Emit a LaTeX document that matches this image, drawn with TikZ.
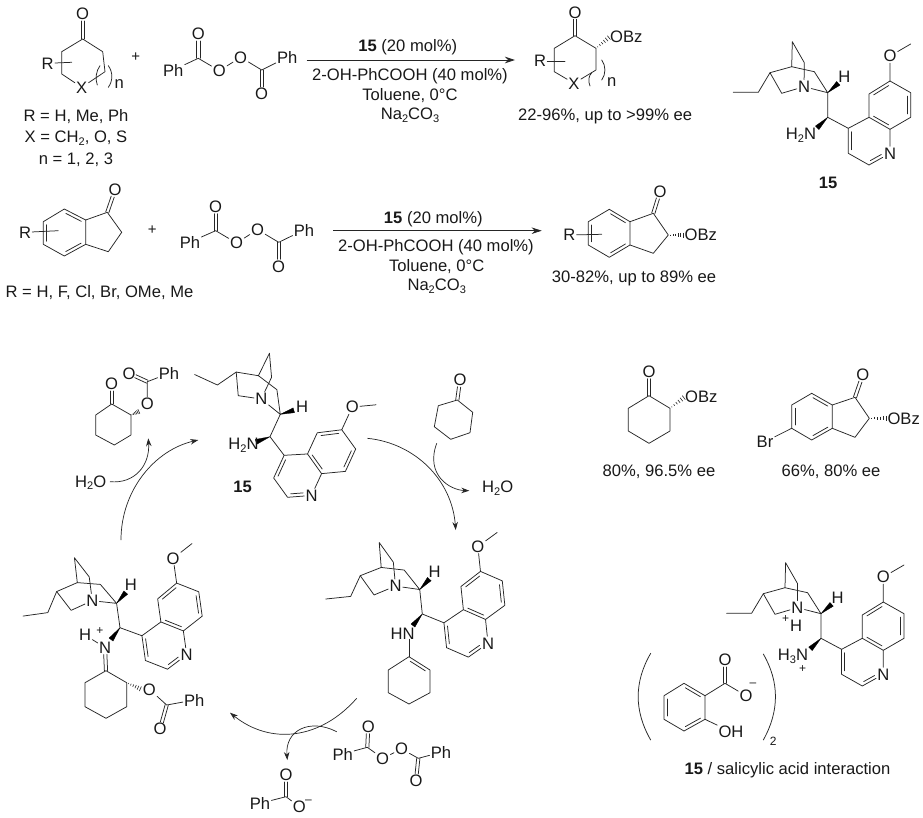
\documentclass[tikz,border=0pt]{standalone}
\usepackage{fontspec}
\setmainfont{Liberation Sans}
\usetikzlibrary{calc,arrows.meta}
\newcommand{\lf}{\fontsize{16.6}{18}\selectfont}
\newcommand{\subs}[1]{\raisebox{-2.6pt}{\fontsize{11}{11}\selectfont #1}}
\tikzset{
  bond/.style={line width=.75pt,draw=black!85,line cap=round,line join=round},
  atom/.style={inner sep=1.1pt,font=\lf,text=black!90},
  lab/.style={inner sep=0pt,font=\lf,text=black!90,align=center},
  tiny/.style={inner sep=0pt,font=\fontsize{12}{12}\selectfont,text=black!90},
  plussign/.style={inner sep=0pt,font=\fontsize{15}{15}\selectfont,text=black!90},
  rxn/.style={line width=.85pt,draw=black!85,-{Stealth[length=10pt,width=6.5pt]}},
  curv/.style={line width=.7pt,draw=black!85,-{Stealth[length=8pt,width=5.5pt]}},
  wedgef/.style={fill=black,draw=black,line width=.3pt,line join=round},
}
% inner ring line, on the left of the direction a -> b as seen on the page
\newcommand{\dblin}[2]{\draw[bond] ($(#1)!.14!(#2)!3.2pt!90:(#2)$) -- ($(#1)!.86!(#2)!3.2pt!90:(#2)$);}
\newcommand{\dblinN}[2]{\draw[bond] ($(#1)!.14!(#2)!3.2pt!90:(#2)$) -- ($(#1)!.66!(#2)!3.2pt!90:(#2)$);}
% carbonyl: two lines, from a coordinate to the centre of a label
\newcommand{\dbo}[2]{\draw[bond,shorten >=7pt] ($(#1)!1.6pt!90:(#2)$) -- ($(#2)!1.6pt!-90:(#1)$);
  \draw[bond,shorten >=7pt] ($(#1)!1.6pt!-90:(#2)$) -- ($(#2)!1.6pt!90:(#1)$);}
\newcommand{\wedgeb}[2]{\fill[wedgef] (#1) -- ($(#2)!2.5pt!90:(#1)$) -- ($(#2)!2.5pt!-90:(#1)$) -- cycle;}
\newcommand{\hashb}[2]{\foreach \t/\w in {.12/.5,.28/.9,.44/1.3,.6/1.7,.76/2.1,.92/2.5}{
  \draw[line width=.6pt,draw=black!85] ($(#1)!\t!(#2)!\w pt!90:(#2)$) -- ($(#1)!\t!(#2)!\w pt!-90:(#2)$);}}
% catalyst skeleton: prefix, x and y of C9, rotation
\newcommand{\catcore}[4]{%
\begin{scope}[shift={(#2,#3)},rotate=#4]
  \coordinate (#1E1) at (-94.4,-25);
  \coordinate (#1E2) at (-69.4,-25);
  \coordinate (#1C3) at (-57.7,-44.6);
  \coordinate (#1BH) at (-36,-50.6);
  \coordinate (#1Top) at (-35.4,-75.6);
  \coordinate (#1Br) at (-23.4,-54.6);
  \coordinate (#1L) at (-46,-24);
  \coordinate (#1Cm) at (-13.4,-45.6);
  \coordinate (#1C8) at (0,-24.6);
  \coordinate (#1Hw) at (10.6,-34);
  \coordinate (#1C9) at (0,0);
  \coordinate (#1Nw) at (-10.5,10.5);
  \coordinate (#1Ca) at (20.6,11);
  \coordinate (#1Cb) at (41.3,0);
  \coordinate (#1Cc) at (41.3,-23.3);
  \coordinate (#1Cd) at (62.3,-36.3);
  \coordinate (#1Me) at (83,-73.3);
  \coordinate (#1Ce) at (83,-24.6);
  \coordinate (#1Cf) at (83,0);
  \coordinate (#1Cg) at (62.3,12);
  \coordinate (#1Ch) at (41.3,47.7);
  \coordinate (#1Ci) at (20.6,36);
  \node[atom] (#1N) at (-23.7,-30.6) {N};
  \node[atom] (#1H) at (16.6,-40.6) {H};
  \node[atom] (#1O) at (62.3,-61.3) {O};
  \node[atom] (#1Q) at (62.3,36) {N};
  \draw[bond] (#1E1)--(#1E2)--(#1C3)--(#1BH)--(#1Top)--(#1Br)--(#1N);
  \draw[bond] (#1C3)--(#1L)--(#1N);
  \draw[bond] (#1BH)--(#1Cm)--(#1C8)--(#1N);
  \draw[bond] (#1C8)--(#1C9)--(#1Ca)--(#1Cb)--(#1Cc)--(#1Cd)--(#1Ce)--(#1Cf)--(#1Cg)--(#1Cb);
  \draw[bond] (#1Cd)--(#1O)--(#1Me);
  \draw[bond] (#1Cg)--(#1Q)--(#1Ch)--(#1Ci)--(#1Ca);
  \wedgeb{#1C8}{#1Hw}
  \wedgeb{#1C9}{#1Nw}
  \dblin{#1Cd}{#1Cc}
  \dblin{#1Cb}{#1Cg}
  \dblin{#1Cf}{#1Ce}
  \dblin{#1Ca}{#1Ci}
  \dblinN{#1Ch}{#1Q}
\end{scope}}
% peroxide: prefix, then Ph, C, O, O, O, C, O, Ph
\newcommand{\bpo}[9]{%
  \node[atom] (#1a) at (#2) {Ph};
  \coordinate (#1b) at (#3);
  \node[atom] (#1c) at (#4) {O};
  \node[atom] (#1d) at (#5) {O};
  \node[atom] (#1e) at (#6) {O};
  \coordinate (#1f) at (#7);
  \node[atom] (#1g) at (#8) {O};
  \node[atom] (#1h) at (#9) {Ph};
  \draw[bond] (#1a)--(#1b)--(#1d)--(#1e)--(#1f)--(#1h);
  \dbo{#1b}{#1c}
  \dbo{#1f}{#1g}}
\begin{document}
\begin{tikzpicture}[x=1pt,y=-1pt]
\useasboundingbox (0,0) rectangle (923,817);
\fill[white] (0,0) rectangle (923,817);

%% ---- row 1: ketone
\node[atom] (kO) at (82.7,14) {O};
\coordinate (kC) at (82.7,39);
\coordinate (kL) at (61.7,51.7);
\coordinate (kR) at (102.7,51.7);
\coordinate (kLL) at (61.7,74);
\coordinate (kRR) at (105,71.7);
\node[atom] (kX) at (81.7,87.3) {X};
\node[atom] (kRg) at (47.7,63.3) {R};
\coordinate (kRe) at (71.7,62.3);
\node[atom] (kn) at (119.3,84) {n};
\draw[bond] (kC)--(kL)--(kLL)--(kX)--(kRR)--(kR)--(kC);
\dbo{kC}{kO}
\draw[bond] (kRg)--(kRe);
\draw[bond] (100,65.7) .. controls (96,71) and (95,79) .. (97.3,85);
\draw[bond] (108.3,65.7) .. controls (113,72) and (113,81) .. (108.3,87.3);
\node[plussign] (pl1) at (135.7,57.3) {+};
\bpo{pa}{173.3,70}{198.3,58.3}{198.3,34}{219.3,70.7}{240.7,57.3}{261.7,70}{261.7,94}{287.3,57.3}
\node[lab] (t1) at (76,116.7) {R = H, Me, Ph};
\node[lab] (t2) at (76,138.5) {X = CH\subs{2}, O, S};
\node[lab] (t3) at (76,160) {n = 1, 2, 3};

%% ---- arrow 1
\coordinate (a1s) at (306.7,60);
\coordinate (a1e) at (515,60);
\draw[rxn] (a1s)--(a1e);
\node[lab] (c11) at (407.7,47.7) {\textbf{15} (20 mol\%)};
\node[lab] (c12) at (410,76.7) {2-OH-PhCOOH (40 mol\%)};
\node[lab] (c13) at (410,95.7) {Toluene, 0°C};
\node[lab] (c14) at (410,115) {Na\subs{2}CO\subs{3}};

%% ---- product 1
\node[atom] (pO) at (575,12.3) {O};
\coordinate (pC) at (575,35.7);
\coordinate (pL) at (554.3,48.3);
\coordinate (pR) at (596,48.3);
\coordinate (pLL) at (554.3,71.7);
\coordinate (pRR) at (596,70);
\node[atom] (pX) at (574,83.3) {X};
\node[atom] (pRg) at (540,61) {R};
\coordinate (pRe) at (565,61);
\node[atom] (pn) at (611.7,81.7) {n};
\node[lab,anchor=west] (pOBz) at (610,36.7) {OBz};
\draw[bond] (pC)--(pL)--(pLL)--(pX)--(pRR)--(pR)--(pC);
\dbo{pC}{pO}
\draw[bond] (pRg)--(pRe);
\hashb{pR}{pOBz.west}
\draw[bond] (591.7,72.7) .. controls (588.5,76) and (588,81) .. (590,86);
\draw[bond] (601.7,60) .. controls (606,66) and (606,74) .. (601.7,80);
\node[lab,anchor=west] (py1) at (518,116.7) {22-96\%, up to >99\% ee};

%% ---- catalyst, top right
\catcore{A}{827.7}{117.3}{0}
\node[lab] (AH2N) at (801,135) {H\subs{2}N};
\node[lab,font=\lf\bfseries] (A15) at (828,183) {15};

%% ---- row 2: indanone
\node[atom] (iRg) at (25,232.3) {R};
\coordinate (i1) at (64.3,209);
\coordinate (i2) at (43.3,221.7);
\coordinate (i3) at (43.3,244.3);
\coordinate (i4) at (64.3,256);
\coordinate (i5) at (85.7,244.3);
\coordinate (i6) at (85.7,220);
\coordinate (i7) at (107.3,212.3);
\coordinate (i8) at (121.7,232.3);
\coordinate (i9) at (108.3,251.7);
\coordinate (iRe) at (58.3,230.7);
\node[atom] (iO) at (115,190) {O};
\draw[bond] (i1)--(i2)--(i3)--(i4)--(i5)--(i6)--(i1);
\draw[bond] (i6)--(i7)--(i8)--(i9)--(i5);
\dblin{i2}{i3}\dblin{i4}{i5}\dblin{i6}{i1}
\dbo{i7}{iO}
\draw[bond] (iRg)--(iRe);
\node[plussign] (pl2) at (152.3,230) {+};
\bpo{pb}{190,242}{215.7,230.7}{215.7,206.7}{236.5,243}{257.5,229.6}{278.7,242.3}{278.7,266.3}{304,230}
\node[lab] (t4) at (99.5,292.7) {R = H, F, Cl, Br, OMe, Me};

%% ---- arrow 2
\coordinate (a2s) at (333.3,230.7);
\coordinate (a2e) at (541.7,230.7);
\draw[rxn] (a2s)--(a2e);
\node[lab] (c21) at (433.3,219) {\textbf{15} (20 mol\%)};
\node[lab] (c22) at (436,247.5) {2-OH-PhCOOH (40 mol\%)};
\node[lab] (c23) at (436.7,267) {Toluene, 0°C};
\node[lab] (c24) at (436.7,286) {Na\subs{2}CO\subs{3}};

%% ---- product 2
\node[atom] (qRg) at (569.3,235) {R};
\coordinate (q1) at (609.3,209.3);
\coordinate (q2) at (588.3,221.7);
\coordinate (q3) at (588.3,245);
\coordinate (q4) at (609.3,257.3);
\coordinate (q5) at (630,245);
\coordinate (q6) at (630,221.7);
\coordinate (q7) at (653.3,213.3);
\coordinate (q8) at (668.3,235);
\coordinate (q9) at (653.3,253.3);
\coordinate (qRe) at (601.7,234.3);
\node[atom] (qO) at (660,191.7) {O};
\node[lab,anchor=west] (qOBz) at (684.5,235) {OBz};
\draw[bond] (q1)--(q2)--(q3)--(q4)--(q5)--(q6)--(q1);
\draw[bond] (q6)--(q7)--(q8)--(q9)--(q5);
\dblin{q2}{q3}\dblin{q4}{q5}\dblin{q6}{q1}
\dbo{q7}{qO}
\draw[bond] (qRg)--(qRe);
\hashb{q8}{qOBz.west}
\node[lab,anchor=west] (py2) at (551.7,278.5) {30-82\%, up to 89\% ee};

%% ---- cycle: catalyst 15
\catcore{B}{270}{436.7}{-24.7}
\node[lab] (BH2N) at (243.5,445) {H\subs{2}N};
\node[lab,font=\lf\bfseries] (B15) at (242.7,487.3) {15};

%% ---- cycle: alpha-benzoyloxy cyclohexanone
\node[atom] (rO) at (111.7,384) {O};
\coordinate (r1) at (111.7,404);
\coordinate (r2) at (95.7,415);
\coordinate (r3) at (95.7,435);
\coordinate (r4) at (114.3,445);
\coordinate (r5) at (131,435);
\coordinate (r6) at (131,415);
\node[atom] (rE) at (147.3,404) {O};
\coordinate (rC) at (147.3,381.7);
\node[atom] (rO2) at (129,373.3) {O};
\node[atom] (rPh) at (169,373.3) {Ph};
\draw[bond] (r1)--(r2)--(r3)--(r4)--(r5)--(r6)--(r1);
\dbo{r1}{rO}
\hashb{r6}{rE.south west}
\draw[bond] (rE)--(rC)--(rPh);
\dbo{rC}{rO2}
\node[lab] (w1) at (90.7,482.7) {H\subs{2}O};
\coordinate (w1s) at (110,481.7);
\coordinate (w1e) at (148.3,438.3);
\draw[curv] (w1s) .. controls (135,484) and (150,465) .. (w1e);
\coordinate (m1s) at (121,540);
\coordinate (m1e) at (198.3,440);
\draw[curv] (m1s) .. controls (121,490) and (155,450) .. (m1e);

%% ---- cycle: cyclohexanone
\node[atom] (sO) at (460,380) {O};
\coordinate (s1) at (457.3,400);
\coordinate (s2) at (472.7,412.3);
\coordinate (s3) at (470,432.7);
\coordinate (s4) at (450.7,439.3);
\coordinate (s5) at (434.3,426.7);
\coordinate (s6) at (438.3,405.7);
\draw[bond] (s1)--(s2)--(s3)--(s4)--(s5)--(s6)--(s1);
\dbo{s1}{sO}
\node[lab] (w2) at (497.7,488.3) {H\subs{2}O};
\coordinate (m2s) at (367.3,438.3);
\coordinate (m2e) at (455.7,530);
\draw[curv] (m2s) .. controls (415,443) and (452,480) .. (m2e);
\coordinate (w2s) at (436.7,443.3);
\coordinate (w2e) at (469.3,490.7);
\draw[curv] (w2s) .. controls (425,475) and (450,490) .. (w2e);

%% ---- cycle: enamine
\catcore{C}{422.3}{614}{6}
\node[lab] (CHN) at (402.7,633.3) {HN};
\coordinate (e1) at (409,656.7);
\coordinate (e2) at (430,670);
\coordinate (e3) at (430,692.7);
\coordinate (e4) at (409,704);
\coordinate (e5) at (388.3,692.7);
\coordinate (e6) at (388.3,670);
\draw[bond] (e1)--(e2)--(e3)--(e4)--(e5)--(e6)--(e1);
\dblin{e2}{e1}
\draw[bond] (CHN.south -| e1)--(e1);

%% ---- cycle: iminium
\catcore{D}{120}{627.7}{8}
\node[atom] (DNp) at (105,647.5) {N};
\node[atom] (DHp) at (85,635) {H};
\node[tiny] (Dpl) at (100,631.5) {+};
\coordinate (d1) at (106,670.7);
\coordinate (d2) at (126.7,682.7);
\coordinate (d3) at (126.7,706.7);
\coordinate (d4) at (106,718.3);
\coordinate (d5) at (85,706.7);
\coordinate (d6) at (85,682.7);
\node[atom] (dE) at (149.3,689.3) {O};
\coordinate (dC) at (166.7,705);
\node[atom] (dPh) at (194.3,700) {Ph};
\node[atom] (dO) at (160,729) {O};
\draw[bond] (d1)--(d2)--(d3)--(d4)--(d5)--(d6)--(d1);
\draw[bond] (DHp)--(DNp);
\dbo{d1}{DNp}
\hashb{d2}{dE.west}
\draw[bond] (dE)--(dC)--(dPh);
\dbo{dC}{dO}

%% ---- cycle: bottom
\coordinate (m3s) at (356.7,698.3);
\coordinate (m3e) at (230,712.7);
\draw[curv] (m3s) .. controls (320,740) and (270,745) .. (m3e);
\coordinate (m4s) at (336.7,731.7);
\coordinate (m4e) at (287.3,760);
\draw[curv] (m4s) .. controls (310,718) and (285,730) .. (m4e);
\bpo{pc}{342.7,754}{367.3,747.3}{368.3,726.7}{382.7,758.3}{401.7,749}{418.3,758.3}{416,780.7}{441,752.3}
\node[atom] (bzO) at (286,775) {O};
\coordinate (bzC) at (286,796.7);
\node[atom] (bzPh) at (260,803.3) {Ph};
\node[atom] (bzM) at (299.3,806.7) {O};
\node[tiny] (bzMm) at (308.5,802) {–};
\draw[bond] (bzPh)--(bzC)--(bzM);
\dbo{bzC}{bzO}

%% ---- examples
\node[atom] (uO) at (649,371.7) {O};
\coordinate (u1) at (649,395.7);
\coordinate (u2) at (628.3,408.3);
\coordinate (u3) at (628.3,431);
\coordinate (u4) at (649,443.3);
\coordinate (u5) at (670,431);
\coordinate (u6) at (670,408.3);
\node[lab,anchor=west] (uOBz) at (685,396.7) {OBz};
\draw[bond] (u1)--(u2)--(u3)--(u4)--(u5)--(u6)--(u1);
\dbo{u1}{uO}
\hashb{u6}{uOBz.west}
\node[lab] (uy) at (659,472) {80\%, 96.5\% ee};

\node[atom] (vO) at (862.7,375) {O};
\coordinate (v1) at (811.7,393.3);
\coordinate (v2) at (791.7,405);
\coordinate (v3) at (791.7,428.3);
\coordinate (v4) at (811.7,440);
\coordinate (v5) at (832.3,428.3);
\coordinate (v6) at (832.3,405);
\coordinate (v7) at (855,397.3);
\coordinate (v8) at (869.3,418.3);
\coordinate (v9) at (855,437.3);
\node[atom] (vBr) at (765,441.7) {Br};
\node[lab,anchor=west] (vOBz) at (887.3,418.3) {OBz};
\draw[bond] (v1)--(v2)--(v3)--(v4)--(v5)--(v6)--(v1);
\draw[bond] (v6)--(v7)--(v8)--(v9)--(v5);
\dblin{v2}{v3}\dblin{v4}{v5}\dblin{v6}{v1}
\dbo{v7}{vO}
\draw[bond] (v3)--(vBr);
\hashb{v8}{vOBz.west}
\node[lab] (vy) at (831,472) {66\%, 80\% ee};

%% ---- salt
\catcore{E}{821}{638.3}{0}
\node[atom] (EH1) at (796,625.5) {H};
\node[tiny] (Epl1) at (785.7,619) {+};
\node[lab] (EH3N) at (793,656.2) {H\subs{3}N};
\node[tiny] (Epl2) at (802.7,669) {+};
\coordinate (f1) at (684,683.3);
\coordinate (f2) at (664,695.7);
\coordinate (f3) at (664,719.3);
\coordinate (f4) at (684,731);
\coordinate (f5) at (705,719.3);
\coordinate (f6) at (705,695.7);
\coordinate (f7) at (725,683.3);
\node[atom] (fO1) at (725,660) {O};
\node[atom] (fO2) at (746,695.7) {O};
\node[tiny] (fM) at (753,684.5) {–};
\node[atom] (fOH) at (731,731.7) {OH};
\draw[bond] (f1)--(f2)--(f3)--(f4)--(f5)--(f6)--(f1);
\draw[bond] (f6)--(f7)--(fO2);
\draw[bond] (f5)--(fOH);
\dblin{f2}{f3}\dblin{f4}{f5}\dblin{f6}{f1}
\dbo{f7}{fO1}
\draw[bond] (650.7,653.3) .. controls (634,682) and (634,711) .. (650.7,740);
\draw[bond] (763.3,654) .. controls (779.5,682) and (779.5,711) .. (763.3,740);
\node[tiny] (f2s) at (773.3,741) {2};
\node[lab] (ftxt) at (787.5,770) {\textbf{15} / salicylic acid interaction};
\end{tikzpicture}
\end{document}
